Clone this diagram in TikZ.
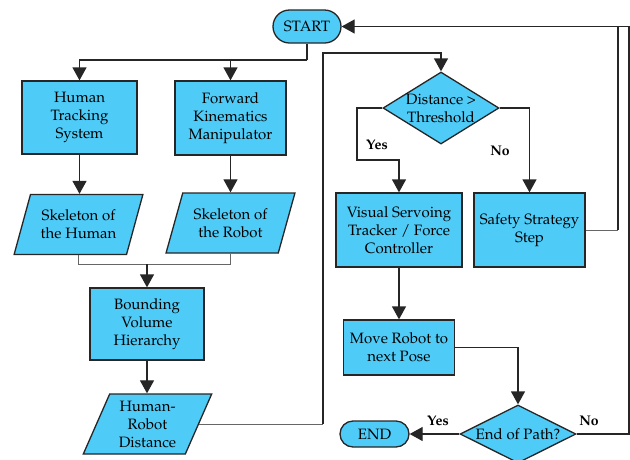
\documentclass[tikz,border=0pt]{standalone}
\usepackage[T1]{fontenc}
\usepackage{mathpazo}
\usetikzlibrary{shapes.geometric,shapes.misc,arrows.meta}
\definecolor{boxblue}{HTML}{4FCBF7}
\definecolor{linec}{HTML}{262626}
\tikzset{
  txt/.style={font=\fontsize{15}{18}\selectfont},
  box/.style={txt, draw=linec, fill=boxblue, line width=1.3pt, align=center, inner sep=1pt},
  para/.style={box, trapezium, trapezium left angle=67, trapezium right angle=113,
    trapezium stretches=true, minimum width=129pt, minimum height=60pt},
  term/.style={box, rounded rectangle},
  dia/.style={box, diamond, inner sep=0pt},
  ln/.style={draw=linec, line width=1.3pt},
  thinln/.style={draw=black!60, line width=0.9pt},
  arr/.style={ln, -{Triangle[width=14pt,length=13pt]}},
  lab/.style={font=\bfseries\fontsize{14}{16}\selectfont, inner sep=0pt}
}
\begin{document}
\begin{tikzpicture}[x=1pt,y=-1pt]
\useasboundingbox (0,0) rectangle (630,459);
% nodes
\node[term, minimum width=70pt, minimum height=33pt] (start) at (307,26.5) {START};
\node[box, minimum width=115pt, minimum height=73pt] (hts) at (79.5,117.5) {Human\\Tracking\\System};
\node[box, minimum width=111pt, minimum height=74pt] (fk) at (230.5,118) {Forward\\Kinematics\\Manipulator};
\node[para] (skh) at (78.5,224.5) {Skeleton of\\the Human};
\node[para] (skr) at (230.5,223) {Skeleton of\\the Robot};
\node[box, minimum width=114pt, minimum height=72pt] (bvh) at (147,324) {Bounding\\Volume\\Hierarchy};
\node[para] (hrd) at (147.5,424) {Human-\\Robot\\Distance};
\node[dia, minimum width=116pt, minimum height=72pt,
  label={[txt, align=center]center:Distance \textgreater\\Threshold}] (dist) at (441,108) {};
\node[box, minimum width=126pt, minimum height=74pt] (vs) at (399,230) {Visual Servoing\\Tracker / Force\\Controller};
\node[box, minimum width=111pt, minimum height=74pt] (safe) at (529.5,230) {Safety Strategy\\Step};
\node[box, minimum width=111pt, minimum height=55pt] (move) at (399,347.5) {Move Robot to\\next Pose};
\node[dia, minimum width=116pt, minimum height=58pt,
  label={[txt]center:End of Path?}] (eop) at (518,434) {};
\node[term, minimum width=71pt, minimum height=26pt] (end) at (374.5,434) {END};
% labels
\node[lab] (yes1) at (377,145) {Yes};
\node[lab] (no1) at (500,151) {No};
\node[lab] (yes2) at (438,421) {Yes};
\node[lab] (no2) at (589,421) {No};
% coordinates
\coordinate (j1) at (307,60);
\coordinate (j2) at (147,264);
\coordinate (j3) at (323,53);
\coordinate (j4) at (357,160);
\coordinate (j5) at (618,26.5);
\coordinate (j6) at (629,26.5);
% connectors
\draw[ln] (start.south) -- (j1);
\draw[arr] (j1) -| (hts.north);
\draw[arr] (j1) -| (fk.north);
\draw[arr] (hts.south) -- (hts.south |- skh.north);
\draw[arr] (fk.south) -- (fk.south |- skr.north);
\draw[thinln] (skh.center |- skh.south) -- (skh.center |- j2) -- (skr.center |- j2) -- (skr.center |- skr.south);
\draw[arr] (j2) -- (bvh.north);
\draw[arr] (bvh.south) -- (bvh.south |- hrd.north);
\draw[thinln] (hrd.east) -- (hrd.east -| j3);
\draw[arr] (hrd.east -| j3) -- (j3) -| (dist.north);
\draw[arr] (dist.west) -| (j4) -| (vs.north);
\draw[arr] (dist.east) -| (safe.north);
\draw[thinln] (safe.east) -- (safe.east -| j5);
\draw[ln] (safe.east -| j5) -- (j5);
\draw[arr] (eop.east) -| (j6) -- (start.east);
\draw[arr] (vs.south) -- (move.north);
\draw[arr] (move.east) -| (eop.north);
\draw[arr] (eop.west) -- (end.east);
\end{tikzpicture}
\end{document}
